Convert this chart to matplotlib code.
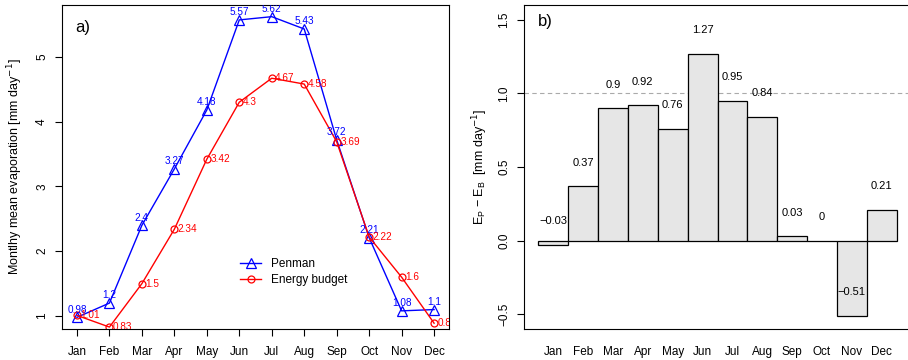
import numpy as np
import matplotlib
matplotlib.use("Agg")
import matplotlib.pyplot as plt

plt.rcParams['font.family'] = ['Liberation Sans', 'DejaVu Sans']
plt.rcParams['axes.unicode_minus'] = True

months = ['Jan', 'Feb', 'Mar', 'Apr', 'May', 'Jun',
          'Jul', 'Aug', 'Sep', 'Oct', 'Nov', 'Dec']
penman = [0.98, 1.2, 2.4, 3.27, 4.18, 5.57, 5.62, 5.43, 3.72, 2.21, 1.08, 1.1]
energy = [1.01, 0.83, 1.5, 2.34, 3.42, 4.3, 4.67, 4.58, 3.69, 2.22, 1.6, 0.89]
diff = [-0.03, 0.37, 0.9, 0.92, 0.76, 1.27, 0.95, 0.84, 0.03, 0, -0.51, 0.21]


def fmt(v):
    s = '{:g}'.format(v)
    return s.replace('-', '\u2212')


fig = plt.figure(figsize=(9.08, 3.6), dpi=100)

# ---- a) monthly evaporation
ax = fig.add_axes([0.0683, 0.0861, 0.4262, 0.9])
x = np.arange(1, 13)
ax.plot(x, penman, color='blue', lw=1, marker='^', mfc='none', ms=6.5,
        mew=0.9, label='Penman')
ax.plot(x, energy, color='red', lw=1, marker='o', mfc='none', ms=5,
        mew=0.9, label='Energy budget')
for xi, v in zip(x, penman):
    ax.annotate(fmt(v), (xi, v), xytext=(0, 2), textcoords='offset points',
                ha='center', va='bottom', color='blue', fontsize=7.2,
                annotation_clip=False, clip_on=True)
for xi, v in zip(x, energy):
    ax.annotate(fmt(v), (xi, v), xytext=(2.5, 0), textcoords='offset points',
                ha='left', va='center', color='red', fontsize=7.2,
                annotation_clip=False, clip_on=True)

ax.set_xlim(0.54, 12.46)
ax.set_ylim(0.8, 5.8)
ax.set_xticks(x)
ax.set_xticklabels(months)
ax.set_yticks([1, 2, 3, 4, 5])
ax.set_yticklabels(['1', '2', '3', '4', '5'], rotation=90, va='center')
ax.tick_params(direction='out', length=5, labelsize=8.5, pad=7)
ax.tick_params(axis='y', pad=5)
ax.set_ylabel('Montlhy mean evaporation [mm day$^{-1}$]', fontsize=9, labelpad=8)
ax.text(0.035, 0.93, 'a)', transform=ax.transAxes, fontsize=12, va='center')
ax.legend(loc='center left', bbox_to_anchor=(0.46, 0.176), frameon=False,
          fontsize=8.5, handlelength=1.8, handletextpad=0.8,
          labelspacing=0.35, borderpad=0, borderaxespad=0)

# ---- b) difference bars
bx = fig.add_axes([0.5771, 0.0861, 0.4262, 0.9])
xb = np.arange(12)
bx.bar(xb, diff, width=1.0, color='#e6e6e6', edgecolor='black', lw=0.9)
bx.axhline(1.0, color='#aaaaaa', lw=0.8, ls=(0, (4, 3)), zorder=0)
for xi, v in zip(xb, diff):
    bx.text(xi, v + 0.16, fmt(v), ha='center', va='center', fontsize=8)

bx.set_xlim(-0.98, 11.98)
bx.set_ylim(-0.6, 1.6)
bx.set_xticks(xb)
bx.set_xticklabels(months)
bx.set_yticks([-0.5, 0.0, 0.5, 1.0, 1.5])
bx.set_yticklabels([fmt(-0.5), '0.0', '0.5', '1.0', '1.5'], rotation=90, va='center')
bx.tick_params(axis='x', length=0, labelsize=8.5, pad=12)
bx.tick_params(axis='y', direction='out', length=5, labelsize=8.5, pad=5)
bx.set_ylabel('E$_\\mathregular{P}$ \u2212 E$_\\mathregular{B}$  [mm day$^{-1}$]',
              fontsize=9, labelpad=6)
bx.text(0.035, 0.95, 'b)', transform=bx.transAxes, fontsize=12, va='center')

fig.savefig('out.png', dpi=100)
